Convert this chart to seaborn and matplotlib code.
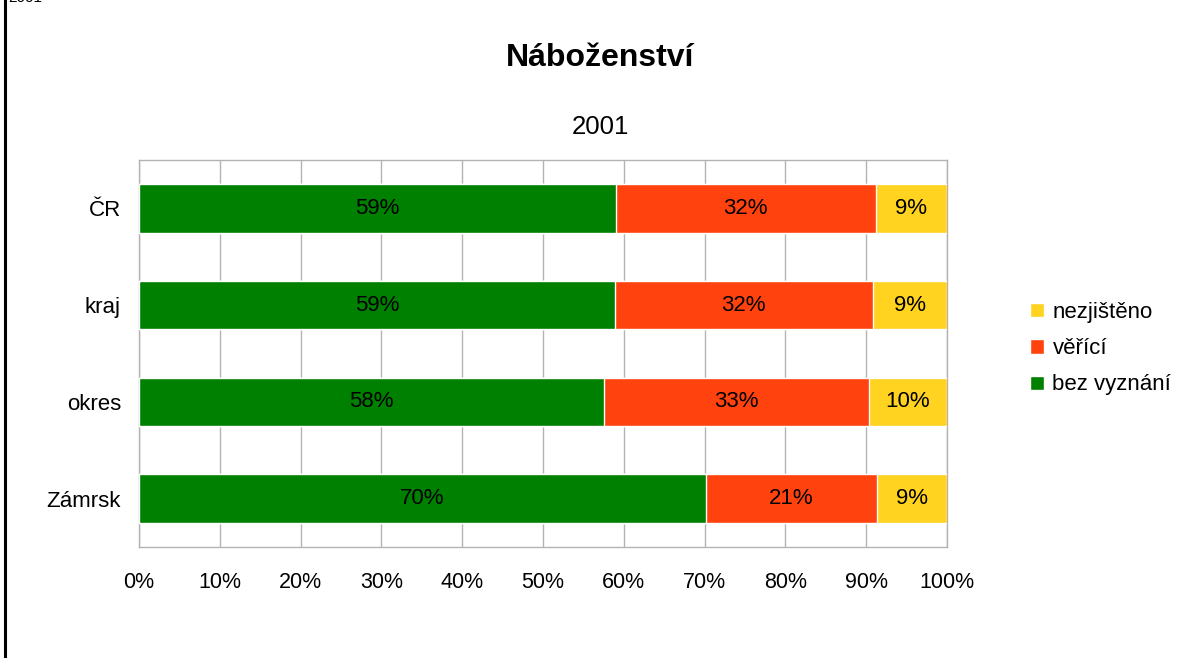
import pandas as pd
import matplotlib.pyplot as plt
import seaborn as sns

# Data (podíly v %)
kategorie = ["ČR", "kraj", "okres", "Zámrsk"]
bez_vyznani = [59.0, 58.9, 57.6, 70.2]
verici = [32.2, 31.9, 32.7, 21.1]
nezjisteno = [8.8, 9.2, 9.7, 8.7]

serie = ["bez vyznání", "věřící", "nezjištěno"]
barvy = {"bez vyznání": "#008000", "věřící": "#ff420e", "nezjištěno": "#ffd320"}

df = pd.DataFrame({"Kategorie": kategorie, "bez vyznání": bez_vyznani,
                   "věřící": verici, "nezjištěno": nezjisteno})
df["kum1"] = df["bez vyznání"]
df["kum2"] = df["kum1"] + df["věřící"]
df["kum3"] = df["kum2"] + df["nezjištěno"]

sns.set_style("white")
plt.rcParams["font.family"] = ["Liberation Sans", "DejaVu Sans"]
plt.rcParams["text.color"] = "black"
plt.rcParams["xtick.color"] = "black"
plt.rcParams["ytick.color"] = "black"

fig = plt.figure(figsize=(12.01, 6.58), dpi=100)
ax = fig.add_axes([139 / 1201, 1 - 547 / 658, 808 / 1201, 387 / 658])

# skládané pruhy: kreslí se od součtu dolů
for sloupec, nazev in [("kum3", "nezjištěno"), ("kum2", "věřící"), ("kum1", "bez vyznání")]:
    sns.barplot(data=df, x=sloupec, y="Kategorie", orient="h", color=barvy[nazev],
                width=0.5, ax=ax, label=nazev, saturation=1, zorder=3)

# popisky hodnot
for i, row in df.iterrows():
    zacatek = 0
    for nazev in serie:
        v = row[nazev]
        ax.text(zacatek + v / 2, i, f"{round(v)}%", ha="center", va="center",
                fontsize=16, color="black", zorder=4)
        zacatek += v

ax.set_xlim(0, 100)
ax.set_ylim(3.5, -0.5)
ax.set_xticks(range(0, 101, 10))
ax.set_xticklabels([f"{t}%" for t in range(0, 101, 10)], fontsize=15.5)
ax.set_yticks([-0.5, 0.5, 1.5, 2.5, 3.5])
ax.set_yticklabels([])
ax.set_yticks(range(4), minor=True)
ax.set_yticklabels(kategorie, minor=True, fontsize=16)
ax.tick_params(axis="y", which="minor", length=0, pad=13)
ax.tick_params(axis="both", which="major", length=8, width=1, color="#b3b3b3",
               direction="out", pad=10)
ax.set_xlabel("")
ax.set_ylabel("")
ax.grid(axis="x", color="#b3b3b3", linewidth=1, zorder=0)
ax.set_axisbelow(True)
for s in ax.spines.values():
    s.set_color("#b3b3b3")
    s.set_linewidth(1)

handles, labels = ax.get_legend_handles_labels()
ax.legend(handles, labels, loc="center left", bbox_to_anchor=(1.103, 0.512),
          frameon=False, fontsize=16, handlelength=0.6, handleheight=0.6,
          handletextpad=0.4, labelspacing=0.68, borderpad=0, borderaxespad=0)

fig.text(600 / 1201, 1 - 58 / 658, "Náboženství", ha="center", va="center",
         fontsize=23, fontweight="bold")
fig.text(600 / 1201, 1 - 127 / 658, "2001", ha="center", va="center", fontsize=18.5)
fig.text(8 / 1201, 1 + 2 / 658, "2001", ha="left", va="center", fontsize=11)

# levý okraj
fig.add_artist(plt.Line2D([4.5 / 1201, 4.5 / 1201], [0, 1], color="black",
                          linewidth=2.2, transform=fig.transFigure))

fig.savefig("out.png", dpi=100)
